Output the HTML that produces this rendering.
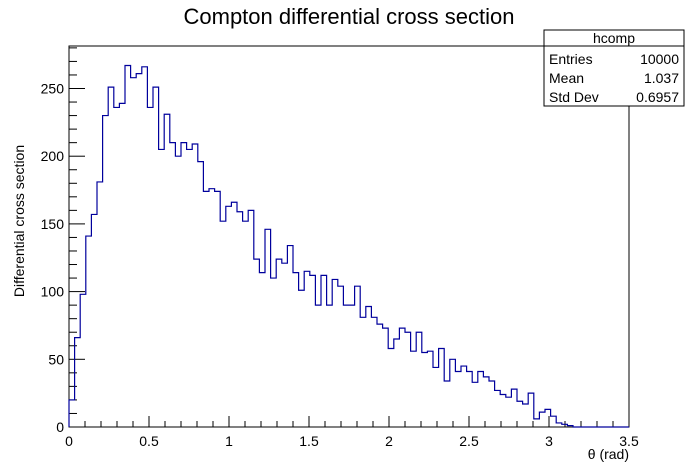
<!DOCTYPE html>
<html><head><meta charset="utf-8"><style>
body{margin:0;background:#fff;}
svg{display:block;font-family:"Liberation Sans",sans-serif;}
</style></head><body>
<svg id="chart" width="698" height="475" viewBox="0 0 698 475" xmlns="http://www.w3.org/2000/svg">
<rect x="0" y="0" width="698" height="475" fill="#fff"/>
<text x="349" y="24" text-anchor="middle" font-size="22" fill="#000">Compton differential cross section</text>
<rect x="69" y="46" width="560" height="381" fill="none" stroke="#000" stroke-width="1"/>
<g id="ticks"></g>
<path id="hist" fill="none" stroke="#00009c" stroke-width="1.2"/>
<text x="629" y="459" text-anchor="end" font-size="14">θ (rad)</text>
<text transform="translate(24,221) rotate(-90)" text-anchor="middle" font-size="14">Differential cross section</text>
<g>
<rect x="544" y="30" width="140" height="76" fill="#fff" stroke="#000" stroke-width="1"/>
<line x1="544" y1="46" x2="684" y2="46" stroke="#000"/>
<text x="614" y="43" text-anchor="middle" font-size="14">hcomp</text>
<text x="549" y="64" font-size="14">Entries</text>
<text x="679" y="64" text-anchor="end" font-size="14">10000</text>
<text x="549" y="83" font-size="14">Mean</text>
<text x="679" y="83" text-anchor="end" font-size="14">1.037</text>
<text x="549" y="102" font-size="14">Std Dev</text>
<text x="679" y="102" text-anchor="end" font-size="14">0.6957</text>
</g>
</svg>
<script>
const binLow = 0, binHigh = 3.5;
const counts = [20,66,98,141,157,181,230,251,236,239,267,258,261,266,236,251,205,231,210,200,
210,205,209,196,174,176,174,152,163,166,159,152,160,124,114,146,110,124,121,134,
114,101,115,112,90,112,90,109,104,90,90,104,81,89,81,76,73,58,65,73,
70,56,70,55,56,44,58,34,50,41,45,41,33,41,37,34,27,24,22,28,
19,17,25,6,11,13,8,3,2,1,0,0,0,0,0,0,0,0,0,0];
const xTicks = [0,0.5,1,1.5,2,2.5,3,3.5];
const xTickLabels = ["0","0.5","1","1.5","2","2.5","3","3.5"];
const yTicks = [0,50,100,150,200,250];
const yTickLabels = ["0","50","100","150","200","250"];
const X0=69,X1=629,Y0=427,PXU=1.354;
const sx=v=>X0+(v-binLow)/(binHigh-binLow)*(X1-X0);
const sy=v=>Y0-v*PXU;
const NS="http://www.w3.org/2000/svg";
const svg=document.getElementById('chart');
const g=document.getElementById('ticks');
function line(x1,y1,x2,y2){const l=document.createElementNS(NS,'line');l.setAttribute('x1',x1);l.setAttribute('y1',y1);l.setAttribute('x2',x2);l.setAttribute('y2',y2);l.setAttribute('stroke','#000');g.appendChild(l);return l;}
function txt(x,y,s,anchor){const t=document.createElementNS(NS,'text');t.setAttribute('x',x);t.setAttribute('y',y);t.setAttribute('font-size','14');t.setAttribute('text-anchor',anchor);t.textContent=s;svg.appendChild(t);return t;}
// x ticks
for(let v=0;v<=3.5001;v+=0.1){const major=Math.abs(v*2-Math.round(v*2))<1e-6;line(sx(v),Y0,sx(v),Y0-(major?11:6));}
xTicks.forEach((v,i)=>{const t=txt(sx(v),446,xTickLabels[i],'middle');

});
// y ticks
for(let v=0;sy(v)>=46;v+=10){const major=v%50===0;line(X0,sy(v),X0+(major?16:8),sy(v));}
yTicks.forEach((v,i)=>{const t=txt(64,sy(v)+5,yTickLabels[i],'end');

});
// histogram
const w=(binHigh-binLow)/counts.length;
let d='M'+sx(binLow)+','+sy(0);
counts.forEach((c,i)=>{d+=' L'+sx(binLow+i*w)+','+sy(c)+' L'+sx(binLow+(i+1)*w)+','+sy(c);});
d+=' L'+sx(binHigh)+','+sy(0);
document.getElementById('hist').setAttribute('d',d);
</script>
</body></html>
